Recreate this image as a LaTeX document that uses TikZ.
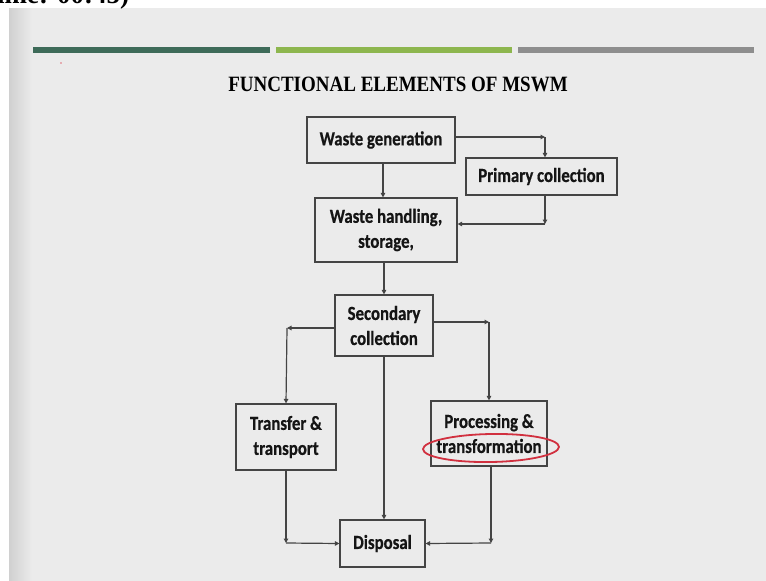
\documentclass[tikz,border=0pt]{standalone}
\usepackage{fontspec}
\usepackage{graphicx}
\setmainfont{Liberation Serif}
\newfontfamily\calibri[FakeStretch=0.84, BoldFeatures={FakeBold=0.6}]{Carlito}
\usetikzlibrary{arrows.meta, calc, positioning}

\definecolor{slidebg}{HTML}{EBEBEB}
\definecolor{slideedge}{HTML}{D0D0D0}
\definecolor{bardark}{HTML}{3E6B59}
\definecolor{barlight}{HTML}{8DB64E}
\definecolor{bargray}{HTML}{8E8E8E}
\definecolor{boxline}{HTML}{444444}
\definecolor{boxtext}{HTML}{151515}
\definecolor{markred}{HTML}{D1303F}

\begin{document}
\begin{tikzpicture}[x=1pt, y=-1pt]
    % Define styles for boxes and connectors
    \tikzset{
        block/.style={draw=boxline, line width=1.2pt, fill=slidebg, inner sep=0pt, align=center,
            text=boxtext, font=\calibri\bfseries\fontsize{20}{25}\selectfont},
        flow/.style={draw=boxline, line width=1.2pt, -{Triangle[length=4.5pt, width=4.5pt]}}
    }

    % Page and slide background
    \useasboundingbox (0,0) rectangle (766,581);
    \clip (0,0) rectangle (766,581);
    \fill[white] (0,0) rectangle (766,581);
    \fill[slidebg] (9,8) rectangle (766,581);
    \shade[left color=slideedge, right color=slidebg] (9,8) rectangle (32,581);
    \node[anchor=base west, inner sep=0pt, font=\bfseries\fontsize{27}{27}\selectfont] (stamp) at (-3,3) {ime: 00:45)};

    % Header bars and title
    \fill[bardark] (33,47) rectangle (270,53);
    \fill[barlight] (276,47) rectangle (512,53);
    \fill[bargray] (518,47) rectangle (754,53);
    \fill[markred!70] (61,63) circle (0.8);
    \node[font=\bfseries\fontsize{19}{19}\selectfont] (title) at (398,84) {\scalebox{1}[1.15]{FUNCTIONAL ELEMENTS OF MSWM}};

    % Boxes
    \node[block, minimum width=148pt, minimum height=46pt] (gen) at (381,140) {Waste generation};
    \node[block, minimum width=151pt, minimum height=37pt] (prim) at (541.5,176.5) {Primary collection};
    \node[block, minimum width=142pt, minimum height=64pt] (hand) at (386,230) {Waste handling,\\ storage,};
    \node[block, minimum width=98pt, minimum height=61pt] (sec) at (384,325.5) {Secondary\\ collection};
    \node[block, minimum width=100pt, minimum height=66pt] (trans) at (286,437) {Transfer \&\\ transport};
    \node[block, minimum width=116pt, minimum height=65pt] (proc) at (489,433.5) {Processing \&\\ transformation};
    \node[block, minimum width=85pt, minimum height=47pt] (disp) at (382.5,543.5) {Disposal};

    % Corners of the elbow connectors
    \coordinate (c_gen) at (545,137);
    \coordinate (c_down) at (383,163);
    \coordinate (c_prim) at (545,224);
    \coordinate (c_left) at (287,328);
    \coordinate (c_right) at (489,322);
    \coordinate (c_trans) at (286,543);
    \coordinate (c_proc) at (491,543);

    % Connectors
    \draw[flow] (gen.east |- c_gen) -- (c_gen);
    \draw[flow] (c_gen) -- (c_gen |- prim.north);
    \draw[flow] (c_down) -- (c_down |- hand.north);
    \draw[flow] (c_prim |- prim.south) -- (c_prim);
    \draw[flow] (c_prim) -- (c_prim -| hand.east);
    \draw[flow] (sec.north |- hand.south) -- (sec.north);
    \draw[flow] (sec.west |- c_left) -- (c_left);
    \draw[flow] (c_left) -- (trans.north);
    \draw[flow] (sec.east |- c_right) -- (c_right);
    \draw[flow] (c_right) -- (proc.north);
    \draw[flow] (sec.south) -- (sec.south |- disp.north);
    \draw[flow] (trans.south) -- (c_trans);
    \draw[flow] (c_trans) -- (disp.west);
    \draw[flow] (c_proc |- proc.south) -- (c_proc);
    \draw[flow] (c_proc) -- (disp.east);

    % Highlight
    \draw[markred, line width=1.8pt, rotate around={1:(491,448)}] (491,448) ellipse [x radius=68, y radius=14];
\end{tikzpicture}
\end{document}
